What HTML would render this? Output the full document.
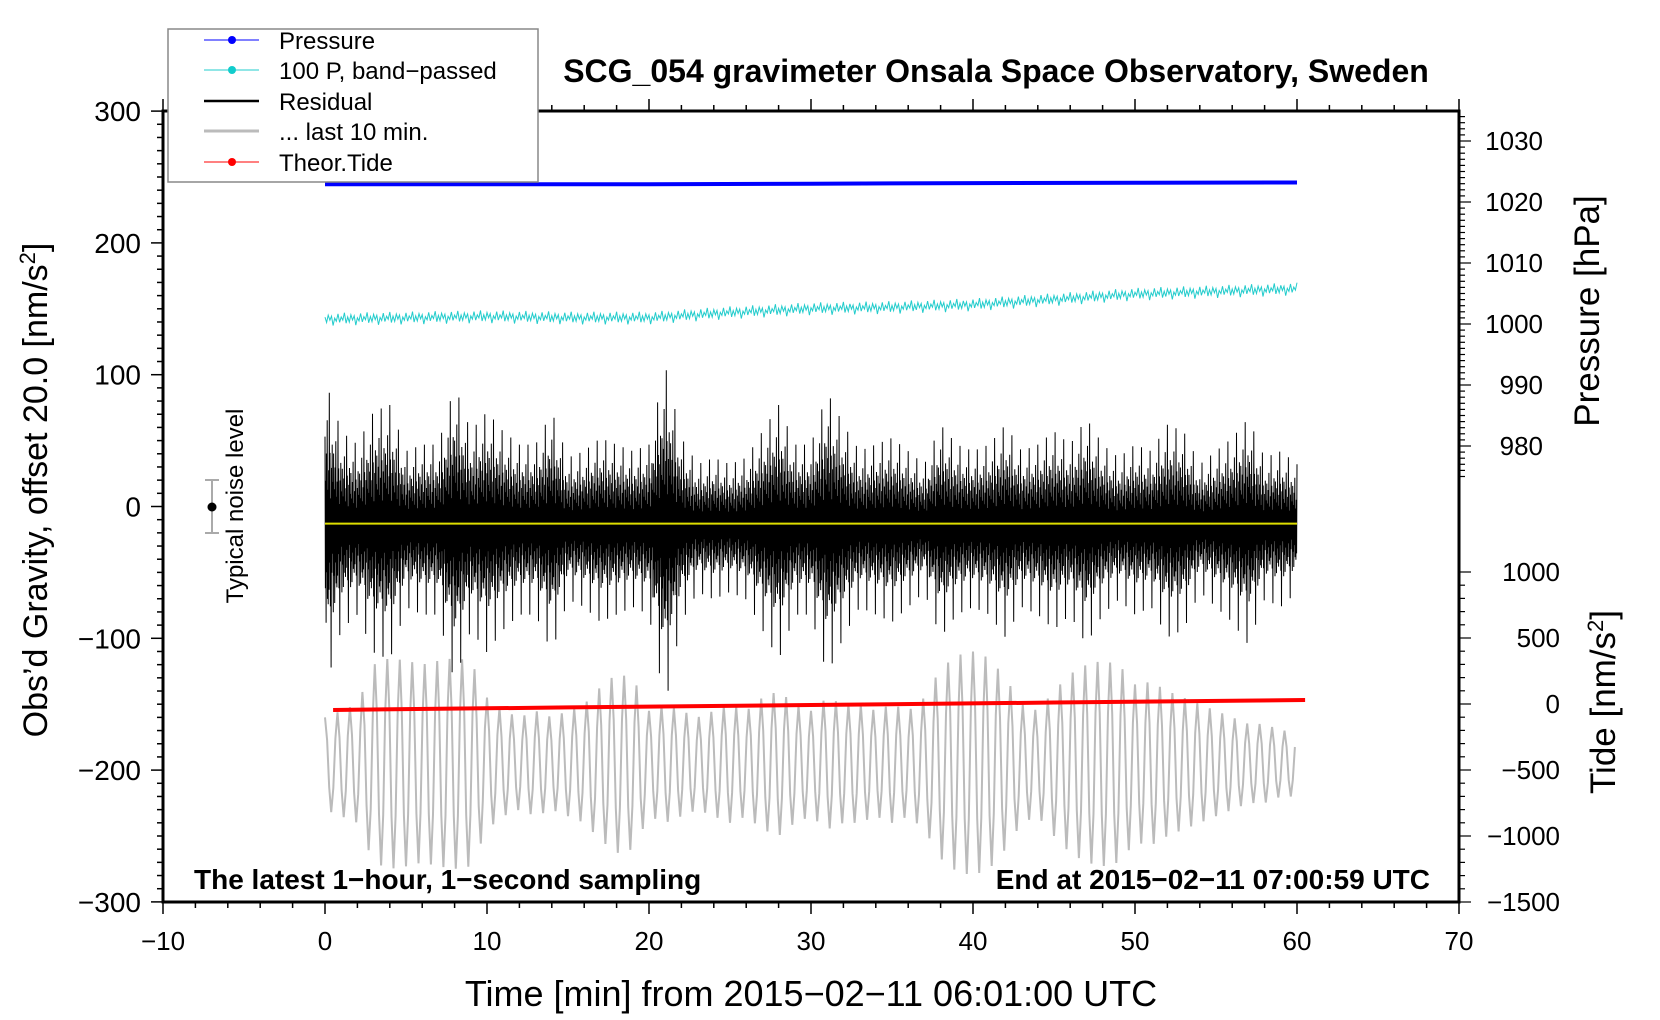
<!DOCTYPE html>
<html><head><meta charset="utf-8"><style>
html,body{margin:0;padding:0;background:#fff}
svg{display:block;font-family:"Liberation Sans",sans-serif}
</style></head><body>
<svg id="chart" width="1660" height="1020" viewBox="0 0 1660 1020" xmlns="http://www.w3.org/2000/svg">
<g id="marks"></g>
<g id="axes"></g>
<text x="996" y="82" font-size="32" font-weight="bold" text-anchor="middle">SCG_054 gravimeter Onsala Space Observatory, Sweden</text>
<text x="811" y="1006" font-size="36" text-anchor="middle">Time [min] from 2015−02−11 06:01:00 UTC</text>
<text transform="translate(47,490) rotate(-90)" font-size="34" text-anchor="middle">Obs’d Gravity, offset 20.0 [nm/s<tspan dy="-12" font-size="22">2</tspan><tspan dy="12">]</tspan></text>
<text transform="translate(1599,311) rotate(-90)" font-size="35" text-anchor="middle">Pressure [hPa]</text>
<text transform="translate(1615,702) rotate(-90)" font-size="35" text-anchor="middle">Tide [nm/s<tspan dy="-12" font-size="22">2</tspan><tspan dy="12">]</tspan></text>
<text x="194" y="889" font-size="28" font-weight="bold">The latest 1−hour, 1−second sampling</text>
<text x="1430" y="889" font-size="28" font-weight="bold" text-anchor="end">End at 2015−02−11 07:00:59 UTC</text>
<g>
<line x1="212" y1="480" x2="212" y2="533" stroke="#aaa" stroke-width="2"/>
<line x1="205" y1="480" x2="219" y2="480" stroke="#aaa" stroke-width="2"/>
<line x1="205" y1="533" x2="219" y2="533" stroke="#aaa" stroke-width="2"/>
<circle cx="212" cy="507" r="4.5" fill="#000"/>
<text transform="translate(243,506) rotate(-90)" font-size="24" text-anchor="middle">Typical noise level</text>
</g>
<g>
<rect x="168" y="29" width="370" height="153" fill="#fff" stroke="#888" stroke-width="1.5"/>
<g><line x1="204" y1="40" x2="259" y2="40" stroke="#00f"/><circle cx="232" cy="40" r="4" fill="#00f"/><text x="279" y="49" font-size="24">Pressure</text></g>
<g><line x1="204" y1="70" x2="259" y2="70" stroke="#2cc"/><circle cx="232" cy="70" r="4" fill="#1cc"/><text x="279" y="79" font-size="24">100 P, band−passed</text></g>
<g><line x1="204" y1="101" x2="259" y2="101" stroke="#000" stroke-width="2.5"/><text x="279" y="110" font-size="24">Residual</text></g>
<g><line x1="204" y1="131" x2="259" y2="131" stroke="#bbb" stroke-width="3"/><text x="279" y="140" font-size="24">... last 10 min.</text></g>
<g><line x1="204" y1="162" x2="259" y2="162" stroke="#f00"/><circle cx="232" cy="162" r="4" fill="#f00"/><text x="279" y="171" font-size="24">Theor.Tide</text></g>
</g>
</svg>
<script>
// ---- data ----
const pressureTimes=[0,10,20,30,40,50,60];
const pressureVals=[1022.9,1022.9,1022.9,1023.0,1023.1,1023.15,1023.2];
const bandTimes=[0,5,10,15,20,25,30,35,40,45,50,55,60];
const bandVals=[142,143,144,143,143,147,150,151,153,157,161,163,165];
const residualAmp=[110,70,60,85,90,55,60,60,105,70,85,70,60,60,85,50,55,65,60,55,60,120,65,45,50,45,50,70,90,60,60,100,75,55,60,65,55,45,75,60,55,60,75,55,60,70,60,80,60,50,60,55,75,70,45,55,65,80,50,55,45];
const residualCenter=-13;
const grayAmp=[35,40,45,75,80,78,75,78,80,78,50,40,35,40,35,40,45,58,68,65,40,45,40,35,40,45,40,50,55,45,40,50,45,45,40,45,40,50,72,82,85,80,65,45,40,55,68,75,78,75,60,62,55,50,45,40,35,30,30,25,25];
const grayCenter=-195;
const tideTimes=[0.5,15,30,45,60.5];
const tideVals=[-45,-26,-8,11,30];
const xTicks=[-10,0,10,20,30,40,50,60,70];
const yTicks=[300,200,100,0,-100,-200,-300];
const pTicks=[1030,1020,1010,1000,990,980];
const tTicks=[1000,500,0,-500,-1000,-1500];
// ---- scales ----
const X=t=>325+t*16.2;
const Y=g=>506.5-g*1.318;
const P=p=>324-(p-1000)*6.1;
const T=v=>704-v*0.132;
const NS='http://www.w3.org/2000/svg';
const marks=document.getElementById('marks'), axes=document.getElementById('axes');
function el(tag,attrs,parent){const e=document.createElementNS(NS,tag);for(const k in attrs)e.setAttribute(k,attrs[k]);parent.appendChild(e);return e;}
function interp(ts,vs,t){for(let i=0;i<ts.length-1;i++){if(t<=ts[i+1]){const f=(t-ts[i])/(ts[i+1]-ts[i]);return vs[i]+f*(vs[i+1]-vs[i]);}}return vs[vs.length-1];}
const pat=[0.6,-0.45,0.3,-0.7,0.5,-0.35,0.75,-0.55,0.25,-0.6,0.4,-0.5,1,-0.3,0.55,-0.65,0.2,-1.15,0.45,-0.4,0.65,-0.25,0.35,-0.75];
const bpat=[2,-3,4,-1,3,-6,1,-2,5,-3,2,-1,6,-4];
// gray last-10 min
let pts=[];
for(let i=0;i<60*1.3*6;i++){const t=i/7.8;const a=interp(grayAmp.map((_,k)=>k),grayAmp,t);const ph=Math.cos(i*Math.PI/3);pts.push(X(t).toFixed(1)+','+Y(grayCenter+a*ph).toFixed(1));}
let g=el('polyline',{points:pts.join(' '),fill:'none',stroke:'#bbb','stroke-width':2},marks);


// residual
pts=[];
for(let i=0;i<=60*45;i++){const t=i/45;const a=interp(residualAmp.map((_,k)=>k),residualAmp,t);pts.push(X(t).toFixed(1)+','+Y(residualCenter+a*pat[i%pat.length]).toFixed(1));}
let r=el('polyline',{points:pts.join(' '),fill:'none',stroke:'#000','stroke-width':1},marks);


// yellow smoothed residual
let y=el('line',{x1:X(0),y1:Y(residualCenter),x2:X(60),y2:Y(residualCenter),stroke:'#dd0','stroke-width':2},marks);


// band-passed
pts=[];
for(let i=0;i<=600;i++){const t=i/10;pts.push(X(t).toFixed(1)+','+Y(interp(bandTimes,bandVals,t)+bpat[i%bpat.length]*0.8).toFixed(1));}
let c=el('polyline',{points:pts.join(' '),fill:'none',stroke:'#2cc','stroke-width':1},marks);


// pressure
let p=el('polyline',{points:pressureTimes.map((t,i)=>X(t)+','+P(pressureVals[i])).join(' '),fill:'none',stroke:'#00f','stroke-width':4},marks);


// tide
let td=el('polyline',{points:tideTimes.map((t,i)=>X(t)+','+T(tideVals[i])).join(' '),fill:'none',stroke:'#f00','stroke-width':4},marks);


// frame
el('rect',{x:163,y:111,width:1296,height:791,fill:'none',stroke:'#000','stroke-width':3},axes);
// x ticks
for(let v=-10;v<=70;v+=2){const major=v%10===0;el('line',{x1:X(v),y1:902,x2:X(v),y2:major?914:908,stroke:'#000','stroke-width':1.5},axes);el('line',{x1:X(v),y1:111,x2:X(v),y2:major?99:105,stroke:'#000','stroke-width':1.5},axes);}
xTicks.forEach(v=>{const t=el('text',{x:X(v),y:950,'font-size':26,'text-anchor':'middle'},axes);t.textContent=String(v).replace('-','−');});
// y ticks
for(let v=-300;v<=300;v+=10){const major=v%100===0;el('line',{x1:163,y1:Y(v),x2:major?151:157,y2:Y(v),stroke:'#000','stroke-width':1.5},axes);}
yTicks.forEach(v=>{const t=el('text',{x:141,y:Y(v)+10,'font-size':28,'text-anchor':'end'},axes);t.textContent=String(v).replace('-','−');});
// pressure ticks
for(let v=975;v<=1035;v++){const yy=P(v);if(yy<111)continue;el('line',{x1:1459,y1:yy,x2:v%10===0?1471:1465,y2:yy,stroke:'#000','stroke-width':1.2},axes);}
pTicks.forEach(v=>{const t=el('text',{x:1543,y:P(v)+9,'font-size':26,'text-anchor':'end'},axes);t.textContent=v;});
// tide ticks
for(let v=-1500;v<=1000;v+=100){el('line',{x1:1459,y1:T(v),x2:v%500===0?1471:1465,y2:T(v),stroke:'#000','stroke-width':1.2},axes);}
tTicks.forEach(v=>{const t=el('text',{x:1560,y:T(v)+9,'font-size':26,'text-anchor':'end'},axes);t.textContent=String(v).replace('-','−');});
</script>
</body></html>
